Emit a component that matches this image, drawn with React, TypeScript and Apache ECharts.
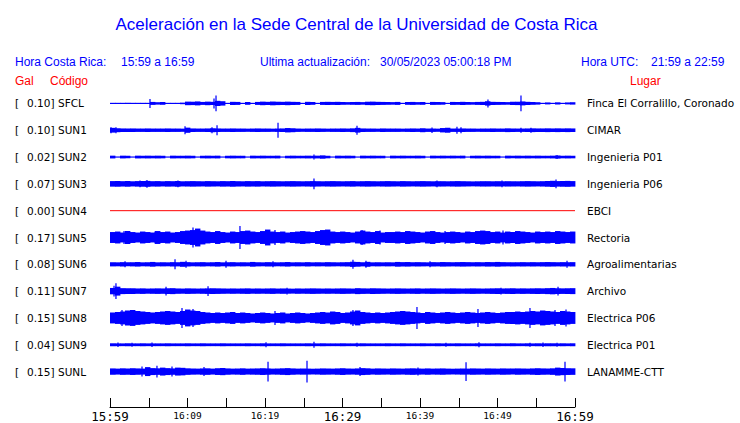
import React, { useEffect, useRef } from "react";
import * as echarts from "echarts";

// ---- data ----
const CODES = ["SFCL", "SUN1", "SUN2", "SUN3", "SUN4", "SUN5", "SUN6", "SUN7", "SUN8", "SUN9", "SUNL"];
const GAL = ["0.10", "0.10", "0.02", "0.07", "0.00", "0.17", "0.08", "0.11", "0.15", "0.04", "0.15"];
const PLACES = [
  "Finca El Corralillo, Coronado", "CIMAR", "Ingenieria P01", "Ingenieria P06", "EBCI", "Rectoria",
  "Agroalimentarias", "Archivo", "Electrica P06", "Electrica P01", "LANAMME-CTT",
];
const TICK_LABELS = ["15:59", "", "16:09", "", "16:19", "", "16:29", "", "16:39", "", "16:49", "", "16:59"];
const MAJOR_LABELS = ["15:59", "16:29", "16:59"];

// envelope half-amplitudes, 93 samples over 60 minutes
const SFCL_AMP = [
  0.6, 0.6, 0.6, 0.6, 0.6, 0.6, 0.6, 0.6, 1.5, 1.2, 1.4, 0.6, 0.6, 0.6, 0.8, 1.8, 1.7, 2, 1.5, 1.8,
  1.6, 2.6, 2.2, 0.6, 1.6, 1.5, 0.6, 1.4, 0.6, 1.5, 1.8, 1.6, 1.9, 1.7, 1.6, 1.8, 1.6, 1.5, 0.6, 1.6,
  1.4, 0.6, 1.5, 1.6, 1.5, 1.6, 1.4, 1.3, 1.4, 1.5, 1.3, 1.7, 1.8, 1.6, 1.5, 1.4, 1.3, 1.5, 0.6, 1.4,
  1.5, 1.3, 1.4, 0.6, 1.5, 1.4, 1.3, 0.6, 1.5, 1.4, 1.6, 1.4, 1.3, 1.5, 1.6, 2.2, 1.6, 1.5, 1.4, 1.3,
  1.6, 1.7, 2.0, 1.6, 1.4, 1.2, 0.6, 1.0, 0.6, 1.1, 0.6, 1.0, 1.2,
];
const SUN1_AMP = [
  2.4, 2.0, 1.8, 1.7, 1.8, 1.7, 1.7, 1.8, 1.7, 1.7, 1.7, 1.8, 1.7, 1.7, 1.6, 2.6, 1.8, 1.7, 1.7, 1.8,
  2.0, 1.8, 1.7, 1.7, 1.8, 1.7, 1.7, 1.6, 1.7, 1.8, 1.7, 1.7, 1.6, 1.7, 1.8, 2.2, 2.0, 1.7, 1.6, 1.7,
  1.7, 1.8, 1.7, 1.6, 1.7, 1.7, 1.8, 1.7, 1.9, 2.4, 1.8, 1.7, 1.7, 1.6, 1.8, 1.7, 1.7, 1.7, 1.6, 1.7,
  1.8, 1.7, 2.0, 1.7, 1.7, 1.6, 2.2, 2.5, 1.7, 1.7, 1.8, 1.7, 1.7, 1.6, 1.7, 1.7, 1.8, 1.7, 1.7, 1.9,
  1.8, 1.7, 1.7, 1.8, 1.9, 1.8, 1.8, 1.9, 1.8, 1.9, 1.8, 1.9, 1.8,
];
const SUN2_AMP = [
  1.4, 0.6, 1.4, 1.3, 0.6, 1.4, 1.3, 1.4, 1.3, 1.4, 1.3, 0.6, 1.4, 1.3, 1.3, 1.4, 1.3, 0.6, 1.3, 1.4,
  1.3, 1.4, 0.6, 1.3, 1.4, 1.3, 1.3, 0.6, 1.4, 1.3, 1.4, 1.3, 1.3, 1.4, 0.6, 1.3, 1.4, 1.3, 1.3, 1.4,
  1.3, 1.4, 1.7, 1.3, 0.6, 1.4, 1.3, 1.4, 1.3, 0.6, 1.4, 1.3, 1.4, 1.3, 1.3, 0.6, 1.4, 1.3, 1.4, 1.3,
  1.3, 1.4, 1.3, 0.6, 1.4, 1.3, 1.4, 1.3, 1.4, 1.3, 1.4, 0.6, 1.3, 1.4, 1.3, 1.4, 1.3, 1.3, 0.6, 1.4,
  1.3, 1.4, 1.3, 1.4, 1.3, 1.4, 1.3, 1.3, 1.4, 1.6, 1.3, 1.4, 1.3,
];
const SUN3_AMP = [
  2.8, 2.9, 2.7, 2.8, 2.6, 2.8, 2.9, 3.0, 2.7, 2.8, 2.6, 2.8, 2.7, 2.9, 2.6, 2.7, 2.8, 2.7, 2.6, 2.8,
  2.7, 2.6, 2.8, 2.7, 2.9, 2.7, 2.6, 2.8, 2.7, 2.8, 2.6, 2.7, 2.8, 2.7, 2.6, 2.7, 2.8, 2.7, 2.6, 2.7,
  2.8, 2.7, 2.6, 2.7, 2.8, 2.7, 2.6, 2.7, 2.8, 2.6, 2.7, 2.8, 2.7, 2.6, 2.7, 2.8, 2.7, 2.6, 2.8, 2.7,
  2.6, 2.7, 2.8, 2.7, 2.6, 2.7, 2.7, 2.6, 2.7, 2.8, 2.7, 2.6, 2.5, 2.6, 2.7, 2.7, 2.6, 2.7, 2.6, 2.7,
  2.7, 2.6, 2.7, 2.8, 2.7, 2.6, 2.7, 2.9, 3.1, 2.8, 2.9, 3.0, 2.8,
];
const SUN5_AMP = [
  5.5, 6.0, 5.0, 6.5, 5.5, 5.0, 6.0, 5.5, 5.0, 6.5, 5.5, 6.0, 5.0, 5.5, 6.5, 7.0, 7.5, 9.0, 7.0, 6.0,
  5.5, 6.5, 5.5, 5.0, 6.0, 5.5, 6.5, 7.0, 6.0, 5.5, 6.5, 8.0, 6.0, 5.5, 6.0, 5.0, 5.5, 6.0, 6.5, 6.0,
  5.5, 6.5, 7.5, 8.0, 6.0, 5.5, 6.0, 5.5, 5.0, 6.0, 7.0, 6.0, 5.5, 6.5, 5.0, 5.5, 5.5, 6.0, 5.5, 6.5,
  6.0, 5.5, 5.0, 6.0, 6.5, 5.5, 5.0, 5.5, 6.0, 5.5, 5.0, 6.0, 5.5, 6.5, 7.0, 6.5, 5.5, 6.0, 5.0, 6.0,
  5.5, 6.5, 6.0, 5.5, 5.0, 6.0, 5.5, 6.0, 5.5, 6.5, 6.0, 5.5, 6.0,
];
const SUN6_AMP = [
  2.1, 2.0, 2.2, 2.0, 2.1, 2.3, 2.0, 2.1, 2.4, 2.0, 2.1, 2.0, 2.2, 2.1, 2.5, 2.2, 2.0, 2.1, 2.2, 2.0,
  2.1, 2.3, 2.0, 2.1, 2.2, 2.0, 2.1, 2.0, 2.4, 2.1, 2.0, 2.2, 2.1, 2.0, 2.1, 2.3, 2.0, 2.1, 2.0, 2.2,
  2.0, 2.1, 2.0, 2.2, 2.1, 2.0, 2.1, 2.2, 2.6, 2.4, 2.1, 2.5, 2.0, 2.1, 2.0, 2.1, 2.0, 2.4, 2.2, 2.3,
  2.1, 2.2, 2.1, 2.0, 2.2, 2.1, 2.3, 2.2, 2.1, 2.2, 2.3, 2.2, 2.1, 2.2, 2.1, 2.3, 2.2, 2.4, 2.2, 2.1,
  2.2, 2.1, 2.2, 2.1, 2.2, 2.1, 2.2, 2.3, 2.2, 2.1, 2.2, 2.1, 2.2,
];
const SUN7_AMP = [
  3.2, 4.5, 3.0, 2.8, 2.9, 2.7, 2.8, 2.6, 2.7, 2.8, 2.7, 2.9, 3.0, 2.7, 2.6, 2.8, 2.7, 2.6, 2.7, 2.8,
  2.9, 2.8, 2.7, 2.6, 2.7, 2.6, 2.7, 2.8, 2.6, 2.7, 2.6, 2.7, 2.8, 2.6, 2.7, 2.6, 2.5, 2.7, 2.6, 2.7,
  2.8, 2.7, 2.6, 2.7, 2.6, 2.7, 2.8, 2.7, 2.6, 3.0, 2.8, 2.7, 2.9, 2.8, 2.7, 2.6, 2.7, 2.8, 2.7, 2.6,
  2.7, 2.8, 2.6, 2.7, 2.8, 2.7, 2.6, 2.7, 2.8, 2.7, 2.6, 2.7, 2.8, 2.7, 2.6, 2.7, 2.8, 2.9, 2.7, 2.8,
  2.9, 2.7, 2.8, 2.7, 2.8, 2.9, 2.8, 3.0, 3.2, 2.9, 2.8, 2.9, 3.0,
];
const SUN8_AMP = [
  5.5, 6.0, 6.5, 7.5, 8.0, 7.0, 6.5, 6.0, 5.5, 6.0, 6.5, 7.0, 6.5, 6.0, 7.0, 8.5, 7.5, 7.0, 6.0, 5.5,
  5.0, 5.5, 5.0, 5.5, 6.0, 5.0, 5.5, 5.0, 4.5, 5.0, 5.5, 5.0, 4.5, 5.0, 5.5, 4.5, 5.0, 5.5, 5.0, 4.5,
  5.0, 5.5, 6.0, 5.5, 6.5, 6.0, 5.0, 5.5, 6.5, 7.5, 6.0, 5.5, 5.0, 5.5, 5.0, 5.5, 6.0, 6.5, 7.0, 6.5,
  6.0, 5.5, 5.0, 6.0, 5.5, 5.0, 5.5, 6.0, 5.5, 5.0, 5.5, 6.0, 5.5, 5.0, 5.5, 6.0, 5.5, 5.0, 5.5, 6.0,
  6.0, 6.5, 6.0, 6.5, 7.0, 6.5, 7.5, 7.0, 6.5, 6.0, 7.0, 6.5, 6.0,
];
const SUN9_AMP = [
  1.5, 1.4, 1.4, 1.5, 1.4, 1.4, 1.5, 1.4, 1.4, 1.4, 1.4, 1.5, 1.4, 1.4, 1.4, 1.5, 1.4, 1.4, 1.5, 1.4,
  1.4, 1.4, 1.5, 1.4, 1.4, 1.4, 1.4, 1.5, 1.4, 1.4, 1.5, 1.4, 1.4, 1.4, 1.5, 1.4, 1.4, 1.4, 1.4, 1.5,
  1.4, 1.4, 1.5, 1.4, 1.4, 1.4, 1.5, 1.4, 1.4, 1.4, 1.5, 1.4, 1.4, 1.4, 1.4, 1.5, 1.4, 1.4, 1.5, 1.4,
  1.4, 1.4, 1.5, 1.4, 1.4, 1.5, 1.4, 1.4, 1.4, 1.5, 1.4, 1.4, 1.4, 1.5, 1.4, 1.4, 1.4, 1.5, 1.4, 1.4,
  1.5, 1.4, 1.4, 1.5, 1.4, 1.5, 1.4, 1.5, 1.5, 1.4, 1.5, 1.4, 1.5,
];
const SUNL_AMP = [
  3.2, 3.0, 3.3, 3.1, 3.4, 3.2, 3.0, 4.5, 3.5, 3.3, 4.0, 3.5, 3.2, 4.0, 3.8, 3.3, 3.1, 3.0, 3.2, 3.3,
  3.0, 3.4, 3.6, 3.2, 3.0, 3.1, 3.3, 3.0, 3.1, 3.2, 3.4, 3.2, 3.0, 3.1, 3.3, 3.5, 3.2, 3.0, 3.1, 3.0,
  2.9, 3.0, 3.2, 3.1, 3.0, 3.2, 3.4, 3.1, 3.0, 3.2, 3.5, 3.3, 3.0, 3.2, 3.1, 3.0, 3.2, 3.1, 3.0, 3.2,
  3.3, 3.1, 3.0, 3.2, 3.0, 3.1, 3.2, 3.0, 2.9, 3.0, 3.1, 3.0, 3.2, 3.1, 3.0, 3.2, 3.1, 3.0, 3.2, 3.1,
  3.0, 3.2, 3.1, 3.0, 3.2, 3.4, 3.2, 3.1, 3.3, 4.0, 3.6, 3.4, 3.3,
];

// isolated peaks: [minute, half-amplitude]
const SFCL_PEAKS = [[5.16, 4.5], [13.42, 5], [13.68, 8], [48.77, 4], [53.03, 8]];
const SUN1_PEAKS = [[0.13, 3], [0.77, 3], [9.68, 4], [13.16, 3], [13.81, 5], [21.68, 7.5], [31.87, 4.5], [41.55, 2.8], [44.77, 3.5], [45.29, 3], [53.03, 2.5], [54.32, 2.5]];
const SUN2_PEAKS = [[26.32, 2.5], [57.68, 2.0]];
const SUN3_PEAKS = [[3.87, 3.5], [4.77, 4], [8.77, 3.5], [26.32, 5.5], [42.19, 3.5], [50.58, 3.5], [57.55, 4.5]];
const SUN5_PEAKS = [[1.81, 6.5], [5.81, 6], [10.71, 10], [11.23, 8], [16.77, 11.5], [21.29, 7.5], [32.52, 7.5], [34.84, 7], [43.23, 6.5], [50.71, 7]];
const SUN6_PEAKS = [[1.94, 3], [8.39, 5], [9.81, 3.5], [14.97, 3.5], [21.03, 3], [31.35, 4.5], [33.03, 3.5], [41.29, 3], [58.97, 3.5]];
const SUN7_PEAKS = [[0.52, 5.5], [0.77, 8], [7.23, 4.5], [12.65, 5], [22.84, 3.5], [50.45, 3.5], [57.81, 4.5]];
const SUN8_PEAKS = [[1.55, 8], [9.29, 10], [10.71, 9], [21.29, 7], [31.35, 8], [39.61, 11], [47.48, 9], [54.19, 10], [57.42, 8], [58.84, 8.5]];
const SUN9_PEAKS = [[1.03, 2.2], [2.84, 2], [5.42, 2.2], [20.13, 2.5], [26.32, 3], [31.87, 2], [43.35, 2], [47.61, 2.5], [54.19, 2], [55.87, 2.3], [57.68, 2]];
const SUNL_PEAKS = [[4.13, 5], [6.06, 6], [8.0, 5], [12.13, 4.5], [20.39, 10], [25.42, 11], [32.26, 4.5], [39.74, 4], [45.94, 9.5], [58.71, 10]];

const TRACE_AMPS = [SFCL_AMP, SUN1_AMP, SUN2_AMP, SUN3_AMP, null, SUN5_AMP, SUN6_AMP, SUN7_AMP, SUN8_AMP, SUN9_AMP, SUNL_AMP];
const TRACE_PEAKS = [SFCL_PEAKS, SUN1_PEAKS, SUN2_PEAKS, SUN3_PEAKS, [], SUN5_PEAKS, SUN6_PEAKS, SUN7_PEAKS, SUN8_PEAKS, SUN9_PEAKS, SUNL_PEAKS];

const SPAN = 27; // y units per trace row
const DURATION = 60;

export default function App() {
  const ref = useRef<HTMLDivElement>(null);

  useEffect(() => {
    const chart = echarts.init(ref.current!, null, { renderer: "svg" });
    const BLUE = "#0000ff";
    const RED = "#ff0000";

    const bandData: number[][] = [];
    TRACE_AMPS.forEach((arr, k) => {
      if (!arr) return;
      const dt = DURATION / arr.length;
      arr.forEach((a, i) => bandData.push([i * dt, k, a, dt]));
    });
    const peakData: number[][] = [];
    TRACE_PEAKS.forEach((arr, k) => {
      arr.forEach(([t, a]) => peakData.push([t - 0.08, k, a, 0.16]));
    });
    const flatIdx = TRACE_AMPS.findIndex((a) => a === null);
    const flatCenter = SPAN / 2 + SPAN * flatIdx;

    const renderRect = (extra: number) => (params: any, api: any) => {
      const t = api.value(0);
      const k = api.value(1);
      const a = api.value(2);
      const w = api.value(3);
      const c = SPAN / 2 + SPAN * k;
      const p0 = api.coord([t, c - a]);
      const p1 = api.coord([t + w, c + a]);
      return {
        type: "rect",
        shape: {
          x: Math.min(p0[0], p1[0]),
          y: Math.min(p0[1], p1[1]),
          width: Math.abs(p1[0] - p0[0]) + extra,
          height: Math.max(1, Math.abs(p1[1] - p0[1])),
        },
        style: { fill: BLUE },
      };
    };

    const headFont = { fontFamily: "Liberation Sans", fontSize: 12 };
    const txt = (x: number, y: number, text: string, fill: string, extra: any = {}) => ({
      type: "text",
      x,
      y,
      silent: true,
      style: { text, fill, align: "left", verticalAlign: "middle", ...headFont, ...extra },
    });

    const option: any = {
      animation: false,
      backgroundColor: "#ffffff",
      textStyle: { fontFamily: "DejaVu Sans" },
      grid: { left: 110, right: 165, top: 90, bottom: 36, containLabel: false },
      xAxis: {
        type: "value",
        position: "bottom",
        min: 0,
        max: DURATION,
        interval: 5,
        offset: 22,
        axisLine: { show: true, onZero: false, lineStyle: { color: "#000", width: 1 } },
        axisTick: { show: true, inside: true, length: 9, lineStyle: { color: "#000", width: 1 } },
        splitLine: { show: false },
        axisLabel: {
          margin: 3,
          showMinLabel: true,
          showMaxLabel: true,
          hideOverlap: false,
          formatter: (v: number) => {
            const lab = TICK_LABELS[Math.round(v / 5)];
            if (!lab) return "";
            return MAJOR_LABELS.includes(lab) ? `{b|${lab}}` : `{s|${lab}}`;
          },
          rich: {
            b: { fontFamily: "DejaVu Sans Mono", fontSize: 12.5, color: "#000" },
            s: { fontFamily: "DejaVu Sans Mono", fontSize: 9.5, color: "#000" },
          },
        },
      },
      yAxis: [
        { type: "value", min: 0, max: SPAN * CODES.length, inverse: true, show: false },
        {
          type: "category",
          data: CODES,
          inverse: true,
          position: "left",
          axisLine: { show: false },
          axisTick: { show: false },
          splitLine: { show: false },
          axisLabel: {
            margin: 95,
            align: "left",
            formatter: (value: string, index: number) => `{b|[}{v|${GAL[index]}]}{c|${value}}`,
            rich: {
              b: { width: 12, fontSize: 10.5, fontFamily: "DejaVu Sans", color: "#000" },
              v: { width: 31, fontSize: 10.5, fontFamily: "DejaVu Sans", color: "#000" },
              c: { fontSize: 10.5, fontFamily: "DejaVu Sans", color: "#000" },
            },
          },
        },
        {
          type: "category",
          data: PLACES,
          inverse: true,
          position: "right",
          axisLine: { show: false },
          axisTick: { show: false },
          splitLine: { show: false },
          axisLabel: { margin: 12, align: "left", fontSize: 10.5, fontFamily: "DejaVu Sans", color: "#000" },
        },
      ],
      series: [
        {
          type: "custom",
          silent: true,
          xAxisIndex: 0,
          yAxisIndex: 0,
          clip: false,
          data: bandData,
          renderItem: renderRect(0.4),
        },
        {
          type: "custom",
          silent: true,
          xAxisIndex: 0,
          yAxisIndex: 0,
          clip: false,
          data: peakData,
          renderItem: renderRect(0),
        },
        {
          type: "line",
          silent: true,
          xAxisIndex: 0,
          yAxisIndex: 0,
          symbol: "none",
          data: [[0, flatCenter], [DURATION, flatCenter]],
          lineStyle: { color: RED, width: 1 },
        },
      ],
      graphic: {
        elements: [
          {
            type: "text",
            x: 356.5,
            y: 24,
            silent: true,
            style: {
              text: "Aceleración en la Sede Central de la Universidad de Costa Rica",
              fill: BLUE,
              align: "center",
              verticalAlign: "middle",
              fontFamily: "Liberation Sans",
              fontSize: 17,
            },
          },
          txt(15, 61.5, "Hora Costa Rica:", BLUE),
          txt(121, 61.5, "15:59 a 16:59", BLUE),
          txt(260, 61.5, "Ultima actualización:", BLUE),
          txt(380, 61.5, "30/05/2023 05:00:18 PM", BLUE),
          txt(581, 61.5, "Hora UTC:", BLUE),
          txt(651, 61.5, "21:59 a 22:59", BLUE),
          txt(15, 81, "Gal", RED),
          txt(50, 81, "Código", RED),
          txt(630, 81, "Lugar", RED),
        ],
      },
    };

    chart.setOption(option);
    return () => chart.dispose();
  }, []);

  return (
    <div
      ref={ref}
      style={{ position: "absolute", left: 0, top: 0, width: 740, height: 423 }}
    />
  );
}
